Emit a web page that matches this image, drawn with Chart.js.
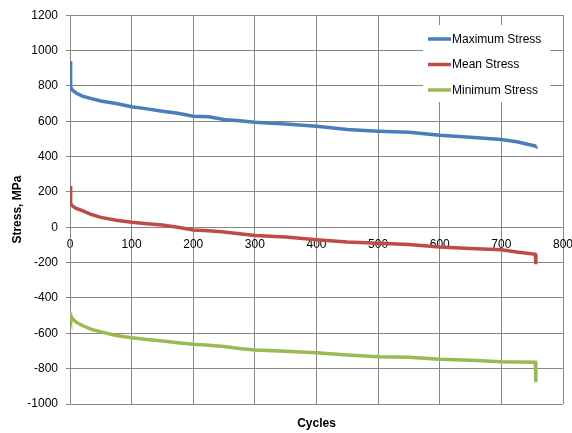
<!DOCTYPE html>
<html>
<head>
<meta charset="utf-8">
<script src="https://cdn.jsdelivr.net/npm/chart.js@4"></script>
<style>
    html, body { margin: 0; padding: 0; background: #fff; }
    #wrap { width: 572px; height: 433px; }
</style>
</head>
<body>
<div id="wrap"><canvas id="chart1"></canvas></div>
<script>
const cycles = [0, 1, 3, 6, 10, 20, 35, 50, 75, 100, 125, 150, 175, 200, 225, 250, 275, 300,
    350, 400, 450, 500, 550, 600, 650, 700, 725, 755, 756];

const maxStress = [940, 795, 780, 770, 760, 742, 728, 715, 700, 682, 670, 657, 645, 628, 625, 610, 603, 594,
    585, 572, 553, 544, 538, 521, 510, 497, 484, 460, 458];

const meanStress = [233, 135, 125, 115, 107, 94, 72, 56, 40, 28, 20, 13, 0, -15, -20, -27, -37, -46,
    -55, -71, -84, -90, -97, -112, -120, -127, -140, -153, -209];

const minStress = [-485, -500, -512, -525, -537, -556, -578, -592, -612, -625, -635, -643, -653, -662, -668, -675, -686, -695,
    -702, -710, -723, -733, -736, -747, -752, -761, -763, -764, -876];

const seriesNames = ['Maximum Stress', 'Mean Stress', 'Minimum Stress'];
const seriesColors = ['#4a7ebb', '#be4b48', '#98b954'];

const FONT = "'Liberation Sans', Arial, sans-serif";
const GRID = '#878787';

function toPoints(values) {
    return cycles.map((c, i) => ({ x: c, y: values[i] }));
}

// legend drawn by hand so it can sit at the top right inside the plot
const boxLegend = {
    id: 'boxLegend',
    afterDatasetsDraw(chart) {
        const ctx = chart.ctx;
        const left = 423, top = 25;
        ctx.save();
        ctx.fillStyle = '#fff';
        ctx.fillRect(left, top, 127, 77);
        ctx.font = '12px ' + FONT;
        ctx.textBaseline = 'middle';
        chart.data.datasets.forEach((ds, i) => {
            const y = 39 + i * 25.5;
            ctx.strokeStyle = ds.borderColor;
            ctx.lineWidth = 3.5;
            ctx.beginPath();
            ctx.moveTo(428, y);
            ctx.lineTo(451, y);
            ctx.stroke();
            ctx.fillStyle = '#000';
            ctx.fillText(ds.label, 452, y + 0.5);
        });
        ctx.restore();
    }
};

new Chart(document.getElementById('chart1'), {
    type: 'line',
    data: {
        datasets: [maxStress, meanStress, minStress].map((vals, i) => ({
            label: seriesNames[i],
            data: toPoints(vals),
            borderColor: seriesColors[i],
            backgroundColor: seriesColors[i],
            borderWidth: 3.5,
            pointRadius: 0,
            tension: 0,
            fill: false
        }))
    },
    options: {
        responsive: true,
        maintainAspectRatio: false,
        animation: false,
        events: [],
        layout: { padding: { top: 13, right: 0, bottom: 0, left: 0 } },
        plugins: {
            legend: { display: false },
            tooltip: { enabled: false }
        },
        scales: {
            x: {
                type: 'linear',
                position: { y: 0 },
                min: 0,
                max: 800,
                ticks: {
                    stepSize: 100,
                    padding: 10,
                    color: '#000',
                    font: { family: FONT, size: 12 },
                    callback: v => String(v)
                },
                grid: { color: GRID, drawTicks: false },
                border: { color: GRID },
                afterFit: scale => { scale.paddingRight = 9; scale.paddingLeft = 0; }
            },
            x2: {
                type: 'linear',
                position: 'bottom',
                ticks: { display: false },
                grid: { display: false, drawTicks: false },
                border: { display: false },
                title: {
                    display: true,
                    text: 'Cycles',
                    color: '#000',
                    font: { family: FONT, size: 12, weight: 'bold' },
                    padding: { top: 2, bottom: 2 }
                },
                afterFit: scale => {
                    scale.height = 29;
                    scale.paddingRight = 0;
                    scale.paddingLeft = 0;
                }
            },
            y: {
                min: -1000,
                max: 1200,
                ticks: {
                    stepSize: 200,
                    padding: 8,
                    color: '#000',
                    font: { family: FONT, size: 12 },
                    callback: v => String(v)
                },
                grid: { color: GRID, tickLength: 4 },
                border: { color: GRID },
                title: {
                    display: true,
                    text: 'Stress, MPa',
                    color: '#000',
                    font: { family: FONT, size: 12, weight: 'bold' },
                    padding: { top: 10, bottom: 0 }
                },
                afterFit: scale => { scale.width = 70; }
            }
        }
    },
    plugins: [boxLegend]
});
</script>
</body>
</html>
